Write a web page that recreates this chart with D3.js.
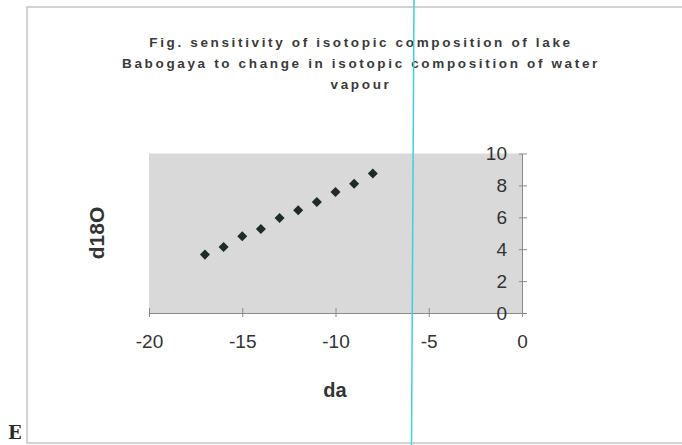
<!DOCTYPE html>
<html>
<head>
<meta charset="utf-8">
<script src="https://cdn.jsdelivr.net/npm/d3@7"></script>
<style>
  body { margin: 0; background: #fff; }
  svg { display: block; font-family: "Liberation Sans", Arial, sans-serif; }
</style>
</head>
<body>
<div id="chart"></div>
<script>
const daValues = [-17, -16, -15, -14, -13, -12, -11, -10, -9, -8];
const d18OValues = [3.66, 4.14, 4.81, 5.27, 5.96, 6.44, 6.96, 7.58, 8.11, 8.74];
const xTicks = [-20, -15, -10, -5, 0];
const yTicks = [0, 2, 4, 6, 8, 10];
const titleLines = [
  'Fig. sensitivity of isotopic composition of lake',
  'Babogaya to change in isotopic composition of water',
  'vapour'
];

const dataSet = daValues.map((d, i) => ({ da: d, d18O: d18OValues[i] }));

const width = 682;
const height = 445;

const svg = d3.select('#chart')
  .append('svg')
  .attr('width', width)
  .attr('height', height);

// chart frame
svg.append('rect')
  .attr('x', 27)
  .attr('y', 7)
  .attr('width', 700)
  .attr('height', 436)
  .attr('fill', '#fff')
  .attr('stroke', '#b4b4b4')
  .attr('stroke-width', 1.2);

const xScale = d3.scaleLinear()
  .domain([-20, 0])
  .range([149, 522]);

const yScale = d3.scaleLinear()
  .domain([0, 10])
  .range([313, 153.5]);

// plot area
svg.append('rect')
  .attr('x', xScale(-20))
  .attr('y', yScale(10))
  .attr('width', xScale(0) - xScale(-20))
  .attr('height', yScale(0) - yScale(10))
  .attr('fill', '#d9d9d9');

// title
svg.append('g')
  .selectAll('text')
  .data(titleLines)
  .join('text')
  .attr('x', 361)
  .attr('y', (d, i) => 47 + i * 21)
  .attr('text-anchor', 'middle')
  .attr('font-size', 13.5)
  .attr('font-weight', 'bold')
  .attr('letter-spacing', 2.65)
  .attr('fill', '#3a3a3a')
  .text((d) => d);

// x axis
const xAxis = d3.axisBottom(xScale)
  .tickValues(xTicks)
  .tickSizeInner(4)
  .tickSizeOuter(0)
  .tickPadding(18)
  .tickFormat((d) => String(d));

const xAxisGroup = svg.append('g')
  .attr('transform', `translate(0, ${yScale(0)})`)
  .call(xAxis);

xAxisGroup.select('.domain').attr('stroke', '#8a8a8a');
xAxisGroup.selectAll('.tick line')
  .attr('y1', -5)
  .attr('stroke', '#8a8a8a');
xAxisGroup.selectAll('.tick text')
  .attr('font-size', 19)
  .attr('font-family', '"Liberation Sans", Arial, sans-serif')
  .attr('fill', '#333');

// y axis (crosses at x = 0, labels on the inside)
const yAxis = d3.axisRight(yScale)
  .tickValues(yTicks)
  .tickSizeInner(5)
  .tickSizeOuter(0)
  .tickFormat((d) => String(d));

const yAxisGroup = svg.append('g')
  .attr('transform', `translate(${xScale(0)}, 0)`)
  .call(yAxis);

yAxisGroup.select('.domain').attr('stroke', '#8a8a8a');
yAxisGroup.selectAll('.tick line')
  .attr('x1', -3)
  .attr('stroke', '#8a8a8a');
yAxisGroup.selectAll('.tick text')
  .attr('x', -15)
  .attr('text-anchor', 'end')
  .attr('font-size', 19)
  .attr('font-family', '"Liberation Sans", Arial, sans-serif')
  .attr('fill', '#333');

// axis titles
svg.append('text')
  .attr('x', 335)
  .attr('y', 397)
  .attr('text-anchor', 'middle')
  .attr('font-size', 20)
  .attr('font-weight', 'bold')
  .attr('fill', '#333')
  .text('da');

svg.append('text')
  .attr('transform', 'translate(104, 233) rotate(-90)')
  .attr('text-anchor', 'middle')
  .attr('font-size', 21)
  .attr('font-weight', 'bold')
  .attr('fill', '#333')
  .text('d18O');

// points
svg.append('g')
  .selectAll('path')
  .data(dataSet)
  .join('path')
  .attr('transform', (d) => `translate(${xScale(d.da)}, ${yScale(d.d18O)})`)
  .attr('d', d3.symbol(d3.symbolDiamond2, 64))
  .attr('fill', '#1f2b2a');

// scan artefacts
svg.append('line')
  .attr('x1', 414)
  .attr('y1', 0)
  .attr('x2', 411.5)
  .attr('y2', height)
  .attr('stroke', '#3fd0dc')
  .attr('stroke-width', 1.5);

svg.append('text')
  .attr('x', 8)
  .attr('y', 439)
  .attr('font-family', '"DejaVu Serif", "Liberation Serif", serif')
  .attr('font-size', 18)
  .attr('font-weight', 'bold')
  .attr('fill', '#2a2a2a')
  .text('E');
</script>
</body>
</html>
